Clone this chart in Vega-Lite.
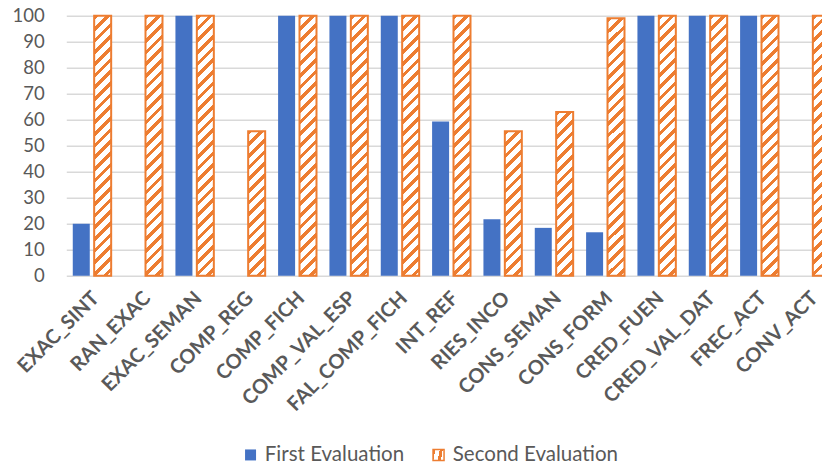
{
  "$schema": "https://vega.github.io/schema/vega-lite/v6.json",
  "width": 755.7,
  "height": 260,
  "autosize": {"type": "none"},
  "padding": {"left": 66.3, "top": 15.7, "right": 0, "bottom": 194.3},
  "config": {"font": "Lato", "view": {"stroke": null}},
  "data": {
    "values": [
      {"category": "EXAC_SINT", "series": "First Evaluation", "value": 20},
      {"category": "EXAC_SINT", "series": "Second Evaluation", "value": 100},
      {"category": "RAN_EXAC", "series": "First Evaluation", "value": 0},
      {"category": "RAN_EXAC", "series": "Second Evaluation", "value": 100},
      {"category": "EXAC_SEMAN", "series": "First Evaluation", "value": 100},
      {"category": "EXAC_SEMAN", "series": "Second Evaluation", "value": 100},
      {"category": "COMP_REG", "series": "First Evaluation", "value": 0},
      {"category": "COMP_REG", "series": "Second Evaluation", "value": 55.6},
      {"category": "COMP_FICH", "series": "First Evaluation", "value": 100},
      {"category": "COMP_FICH", "series": "Second Evaluation", "value": 100},
      {"category": "COMP_VAL_ESP", "series": "First Evaluation", "value": 100},
      {"category": "COMP_VAL_ESP", "series": "Second Evaluation", "value": 100},
      {"category": "FAL_COMP_FICH", "series": "First Evaluation", "value": 100},
      {"category": "FAL_COMP_FICH", "series": "Second Evaluation", "value": 100},
      {"category": "INT_REF", "series": "First Evaluation", "value": 59.3},
      {"category": "INT_REF", "series": "Second Evaluation", "value": 100},
      {"category": "RIES_INCO", "series": "First Evaluation", "value": 21.7},
      {"category": "RIES_INCO", "series": "Second Evaluation", "value": 55.6},
      {"category": "CONS_SEMAN", "series": "First Evaluation", "value": 18.4},
      {"category": "CONS_SEMAN", "series": "Second Evaluation", "value": 63},
      {"category": "CONS_FORM", "series": "First Evaluation", "value": 16.7},
      {"category": "CONS_FORM", "series": "Second Evaluation", "value": 99},
      {"category": "CRED_FUEN", "series": "First Evaluation", "value": 100},
      {"category": "CRED_FUEN", "series": "Second Evaluation", "value": 100},
      {"category": "CRED_VAL_DAT", "series": "First Evaluation", "value": 100},
      {"category": "CRED_VAL_DAT", "series": "Second Evaluation", "value": 100},
      {"category": "FREC_ACT", "series": "First Evaluation", "value": 100},
      {"category": "FREC_ACT", "series": "Second Evaluation", "value": 100},
      {"category": "CONV_ACT", "series": "First Evaluation", "value": 0},
      {"category": "CONV_ACT", "series": "Second Evaluation", "value": 100}
    ]
  },
  "mark": {"type": "bar", "strokeWidth": 2},
  "encoding": {
    "x": {
      "field": "category",
      "type": "nominal",
      "sort": null,
      "scale": {"range": [0, 770], "paddingInner": 0.252, "paddingOuter": 0.126},
      "axis": {
        "title": null,
        "labelAngle": -45,
        "labelFont": "Lato",
        "labelFontWeight": "bold",
        "labelFontSize": 20,
        "labelColor": "#595959",
        "labelPadding": 12,
        "labelOffset": -3,
        "labelOverlap": false,
        "labelLimit": 400,
        "ticks": false,
        "domain": false
      }
    },
    "xOffset": {
      "field": "series",
      "type": "nominal",
      "scale": {"paddingInner": 0.2056, "paddingOuter": 0}
    },
    "y": {
      "field": "value",
      "type": "quantitative",
      "scale": {"domain": [0, 100], "nice": false},
      "axis": {
        "title": null,
        "values": [0, 10, 20, 30, 40, 50, 60, 70, 80, 90, 100],
        "labelFont": "Lato",
        "labelFontSize": 18.5,
        "labelColor": "#595959",
        "labelPadding": 22,
        "ticks": false,
        "domain": false,
        "grid": true,
        "gridColor": "#D9D9D9",
        "gridWidth": 1.5
      }
    },
    "color": {
      "condition": [
        {
          "test": "datum.series === 'Second Evaluation' && datum.value >= 80",
          "value": {
            "gradient": "linear", "x1": 0, "y1": 0, "x2": 0.06938, "y2": 1.0608,
            "stops": [
              {"offset": 0, "color": "#ED7D31"}, {"offset": 0.01685, "color": "#ED7D31"}, {"offset": 0.01685, "color": "#FFFFFF"}, {"offset": 0.04213, "color": "#FFFFFF"},
              {"offset": 0.04213, "color": "#ED7D31"}, {"offset": 0.05898, "color": "#ED7D31"}, {"offset": 0.05898, "color": "#FFFFFF"}, {"offset": 0.08426, "color": "#FFFFFF"},
              {"offset": 0.08426, "color": "#ED7D31"}, {"offset": 0.10111, "color": "#ED7D31"}, {"offset": 0.10111, "color": "#FFFFFF"}, {"offset": 0.12639, "color": "#FFFFFF"},
              {"offset": 0.12639, "color": "#ED7D31"}, {"offset": 0.14324, "color": "#ED7D31"}, {"offset": 0.14324, "color": "#FFFFFF"}, {"offset": 0.16852, "color": "#FFFFFF"},
              {"offset": 0.16852, "color": "#ED7D31"}, {"offset": 0.18537, "color": "#ED7D31"}, {"offset": 0.18537, "color": "#FFFFFF"}, {"offset": 0.21065, "color": "#FFFFFF"},
              {"offset": 0.21065, "color": "#ED7D31"}, {"offset": 0.2275, "color": "#ED7D31"}, {"offset": 0.2275, "color": "#FFFFFF"}, {"offset": 0.25278, "color": "#FFFFFF"},
              {"offset": 0.25278, "color": "#ED7D31"}, {"offset": 0.26963, "color": "#ED7D31"}, {"offset": 0.26963, "color": "#FFFFFF"}, {"offset": 0.29491, "color": "#FFFFFF"},
              {"offset": 0.29491, "color": "#ED7D31"}, {"offset": 0.31176, "color": "#ED7D31"}, {"offset": 0.31176, "color": "#FFFFFF"}, {"offset": 0.33704, "color": "#FFFFFF"},
              {"offset": 0.33704, "color": "#ED7D31"}, {"offset": 0.35389, "color": "#ED7D31"}, {"offset": 0.35389, "color": "#FFFFFF"}, {"offset": 0.37917, "color": "#FFFFFF"},
              {"offset": 0.37917, "color": "#ED7D31"}, {"offset": 0.39602, "color": "#ED7D31"}, {"offset": 0.39602, "color": "#FFFFFF"}, {"offset": 0.4213, "color": "#FFFFFF"},
              {"offset": 0.4213, "color": "#ED7D31"}, {"offset": 0.43815, "color": "#ED7D31"}, {"offset": 0.43815, "color": "#FFFFFF"}, {"offset": 0.46343, "color": "#FFFFFF"},
              {"offset": 0.46343, "color": "#ED7D31"}, {"offset": 0.48028, "color": "#ED7D31"}, {"offset": 0.48028, "color": "#FFFFFF"}, {"offset": 0.50556, "color": "#FFFFFF"},
              {"offset": 0.50556, "color": "#ED7D31"}, {"offset": 0.52241, "color": "#ED7D31"}, {"offset": 0.52241, "color": "#FFFFFF"}, {"offset": 0.54769, "color": "#FFFFFF"},
              {"offset": 0.54769, "color": "#ED7D31"}, {"offset": 0.56454, "color": "#ED7D31"}, {"offset": 0.56454, "color": "#FFFFFF"}, {"offset": 0.58982, "color": "#FFFFFF"},
              {"offset": 0.58982, "color": "#ED7D31"}, {"offset": 0.60667, "color": "#ED7D31"}, {"offset": 0.60667, "color": "#FFFFFF"}, {"offset": 0.63195, "color": "#FFFFFF"},
              {"offset": 0.63195, "color": "#ED7D31"}, {"offset": 0.6488, "color": "#ED7D31"}, {"offset": 0.6488, "color": "#FFFFFF"}, {"offset": 0.67408, "color": "#FFFFFF"},
              {"offset": 0.67408, "color": "#ED7D31"}, {"offset": 0.69093, "color": "#ED7D31"}, {"offset": 0.69093, "color": "#FFFFFF"}, {"offset": 0.71621, "color": "#FFFFFF"},
              {"offset": 0.71621, "color": "#ED7D31"}, {"offset": 0.73306, "color": "#ED7D31"}, {"offset": 0.73306, "color": "#FFFFFF"}, {"offset": 0.75834, "color": "#FFFFFF"},
              {"offset": 0.75834, "color": "#ED7D31"}, {"offset": 0.77519, "color": "#ED7D31"}, {"offset": 0.77519, "color": "#FFFFFF"}, {"offset": 0.80047, "color": "#FFFFFF"},
              {"offset": 0.80047, "color": "#ED7D31"}, {"offset": 0.81732, "color": "#ED7D31"}, {"offset": 0.81732, "color": "#FFFFFF"}, {"offset": 0.8426, "color": "#FFFFFF"},
              {"offset": 0.8426, "color": "#ED7D31"}, {"offset": 0.85945, "color": "#ED7D31"}, {"offset": 0.85945, "color": "#FFFFFF"}, {"offset": 0.88473, "color": "#FFFFFF"},
              {"offset": 0.88473, "color": "#ED7D31"}, {"offset": 0.90158, "color": "#ED7D31"}, {"offset": 0.90158, "color": "#FFFFFF"}, {"offset": 0.92686, "color": "#FFFFFF"},
              {"offset": 0.92686, "color": "#ED7D31"}, {"offset": 0.94371, "color": "#ED7D31"}, {"offset": 0.94371, "color": "#FFFFFF"}, {"offset": 0.96899, "color": "#FFFFFF"},
              {"offset": 0.96899, "color": "#ED7D31"}, {"offset": 0.98584, "color": "#ED7D31"}, {"offset": 0.98584, "color": "#FFFFFF"}, {"offset": 1, "color": "#FFFFFF"}
            ]
          }
        },
        {
          "test": "datum.series === 'Second Evaluation' && datum.value >= 60",
          "value": {
            "gradient": "linear", "x1": 0, "y1": 0, "x2": 0.11333, "y2": 1.092,
            "stops": [
              {"offset": 0, "color": "#ED7D31"}, {"offset": 0.02582, "color": "#ED7D31"}, {"offset": 0.02582, "color": "#FFFFFF"}, {"offset": 0.06455, "color": "#FFFFFF"},
              {"offset": 0.06455, "color": "#ED7D31"}, {"offset": 0.09037, "color": "#ED7D31"}, {"offset": 0.09037, "color": "#FFFFFF"}, {"offset": 0.1291, "color": "#FFFFFF"},
              {"offset": 0.1291, "color": "#ED7D31"}, {"offset": 0.15492, "color": "#ED7D31"}, {"offset": 0.15492, "color": "#FFFFFF"}, {"offset": 0.19365, "color": "#FFFFFF"},
              {"offset": 0.19365, "color": "#ED7D31"}, {"offset": 0.21947, "color": "#ED7D31"}, {"offset": 0.21947, "color": "#FFFFFF"}, {"offset": 0.2582, "color": "#FFFFFF"},
              {"offset": 0.2582, "color": "#ED7D31"}, {"offset": 0.28402, "color": "#ED7D31"}, {"offset": 0.28402, "color": "#FFFFFF"}, {"offset": 0.32275, "color": "#FFFFFF"},
              {"offset": 0.32275, "color": "#ED7D31"}, {"offset": 0.34857, "color": "#ED7D31"}, {"offset": 0.34857, "color": "#FFFFFF"}, {"offset": 0.3873, "color": "#FFFFFF"},
              {"offset": 0.3873, "color": "#ED7D31"}, {"offset": 0.41312, "color": "#ED7D31"}, {"offset": 0.41312, "color": "#FFFFFF"}, {"offset": 0.45185, "color": "#FFFFFF"},
              {"offset": 0.45185, "color": "#ED7D31"}, {"offset": 0.47767, "color": "#ED7D31"}, {"offset": 0.47767, "color": "#FFFFFF"}, {"offset": 0.5164, "color": "#FFFFFF"},
              {"offset": 0.5164, "color": "#ED7D31"}, {"offset": 0.54222, "color": "#ED7D31"}, {"offset": 0.54222, "color": "#FFFFFF"}, {"offset": 0.58095, "color": "#FFFFFF"},
              {"offset": 0.58095, "color": "#ED7D31"}, {"offset": 0.60677, "color": "#ED7D31"}, {"offset": 0.60677, "color": "#FFFFFF"}, {"offset": 0.6455, "color": "#FFFFFF"},
              {"offset": 0.6455, "color": "#ED7D31"}, {"offset": 0.67132, "color": "#ED7D31"}, {"offset": 0.67132, "color": "#FFFFFF"}, {"offset": 0.71005, "color": "#FFFFFF"},
              {"offset": 0.71005, "color": "#ED7D31"}, {"offset": 0.73587, "color": "#ED7D31"}, {"offset": 0.73587, "color": "#FFFFFF"}, {"offset": 0.7746, "color": "#FFFFFF"},
              {"offset": 0.7746, "color": "#ED7D31"}, {"offset": 0.80042, "color": "#ED7D31"}, {"offset": 0.80042, "color": "#FFFFFF"}, {"offset": 0.83915, "color": "#FFFFFF"},
              {"offset": 0.83915, "color": "#ED7D31"}, {"offset": 0.86497, "color": "#ED7D31"}, {"offset": 0.86497, "color": "#FFFFFF"}, {"offset": 0.9037, "color": "#FFFFFF"},
              {"offset": 0.9037, "color": "#ED7D31"}, {"offset": 0.92952, "color": "#ED7D31"}, {"offset": 0.92952, "color": "#FFFFFF"}, {"offset": 0.96825, "color": "#FFFFFF"},
              {"offset": 0.96825, "color": "#ED7D31"}, {"offset": 0.99407, "color": "#ED7D31"}, {"offset": 0.99407, "color": "#FFFFFF"}, {"offset": 1, "color": "#FFFFFF"}
            ]
          }
        },
        {
          "test": "datum.series === 'Second Evaluation'",
          "value": {
            "gradient": "linear", "x1": 0, "y1": 0, "x2": 0.12962, "y2": 1.1023,
            "stops": [
              {"offset": 0, "color": "#ED7D31"}, {"offset": 0.02889, "color": "#ED7D31"}, {"offset": 0.02889, "color": "#FFFFFF"}, {"offset": 0.07223, "color": "#FFFFFF"},
              {"offset": 0.07223, "color": "#ED7D31"}, {"offset": 0.10112, "color": "#ED7D31"}, {"offset": 0.10112, "color": "#FFFFFF"}, {"offset": 0.14446, "color": "#FFFFFF"},
              {"offset": 0.14446, "color": "#ED7D31"}, {"offset": 0.17335, "color": "#ED7D31"}, {"offset": 0.17335, "color": "#FFFFFF"}, {"offset": 0.21669, "color": "#FFFFFF"},
              {"offset": 0.21669, "color": "#ED7D31"}, {"offset": 0.24558, "color": "#ED7D31"}, {"offset": 0.24558, "color": "#FFFFFF"}, {"offset": 0.28892, "color": "#FFFFFF"},
              {"offset": 0.28892, "color": "#ED7D31"}, {"offset": 0.31781, "color": "#ED7D31"}, {"offset": 0.31781, "color": "#FFFFFF"}, {"offset": 0.36115, "color": "#FFFFFF"},
              {"offset": 0.36115, "color": "#ED7D31"}, {"offset": 0.39004, "color": "#ED7D31"}, {"offset": 0.39004, "color": "#FFFFFF"}, {"offset": 0.43338, "color": "#FFFFFF"},
              {"offset": 0.43338, "color": "#ED7D31"}, {"offset": 0.46227, "color": "#ED7D31"}, {"offset": 0.46227, "color": "#FFFFFF"}, {"offset": 0.50561, "color": "#FFFFFF"},
              {"offset": 0.50561, "color": "#ED7D31"}, {"offset": 0.5345, "color": "#ED7D31"}, {"offset": 0.5345, "color": "#FFFFFF"}, {"offset": 0.57784, "color": "#FFFFFF"},
              {"offset": 0.57784, "color": "#ED7D31"}, {"offset": 0.60673, "color": "#ED7D31"}, {"offset": 0.60673, "color": "#FFFFFF"}, {"offset": 0.65007, "color": "#FFFFFF"},
              {"offset": 0.65007, "color": "#ED7D31"}, {"offset": 0.67896, "color": "#ED7D31"}, {"offset": 0.67896, "color": "#FFFFFF"}, {"offset": 0.7223, "color": "#FFFFFF"},
              {"offset": 0.7223, "color": "#ED7D31"}, {"offset": 0.75119, "color": "#ED7D31"}, {"offset": 0.75119, "color": "#FFFFFF"}, {"offset": 0.79453, "color": "#FFFFFF"},
              {"offset": 0.79453, "color": "#ED7D31"}, {"offset": 0.82342, "color": "#ED7D31"}, {"offset": 0.82342, "color": "#FFFFFF"}, {"offset": 0.86676, "color": "#FFFFFF"},
              {"offset": 0.86676, "color": "#ED7D31"}, {"offset": 0.89565, "color": "#ED7D31"}, {"offset": 0.89565, "color": "#FFFFFF"}, {"offset": 0.93899, "color": "#FFFFFF"},
              {"offset": 0.93899, "color": "#ED7D31"}, {"offset": 0.96788, "color": "#ED7D31"}, {"offset": 0.96788, "color": "#FFFFFF"}, {"offset": 1, "color": "#FFFFFF"}
            ]
          }
        }
      ],
      "field": "series",
      "type": "nominal",
      "scale": {"domain": ["First Evaluation", "Second Evaluation"], "range": ["#4472C4", "#ED7D31"]},
      "legend": {
        "values": ["First Evaluation"],
        "title": null,
        "orient": "none",
        "legendX": 174,
        "legendY": 429,
        "direction": "horizontal",
        "padding": 0,
        "symbolType": "square",
        "symbolSize": 121,
        "symbolStrokeColor": "#4472C4",
        "symbolStrokeWidth": 0,
        "labelFont": "Lato",
        "labelFontSize": 20.5,
        "labelColor": "#595959",
        "labelOffset": 4,
        "labelLimit": 300
      }
    },
    "stroke": {
      "field": "series",
      "type": "nominal",
      "scale": {"range": ["rgba(0,0,0,0)", "#ED7D31"]},
      "legend": {
        "values": ["Second Evaluation"],
        "title": null,
        "orient": "none",
        "legendX": 362,
        "legendY": 429,
        "direction": "horizontal",
        "padding": 0,
        "symbolType": "square",
        "symbolSize": 121,
        "symbolStrokeWidth": 1.5,
        "labelFont": "Lato",
        "labelFontSize": 20.5,
        "labelColor": "#595959",
        "labelOffset": 4,
        "labelLimit": 300,
        "encode": {
          "symbols": {
            "fill": {
              "value": {
                "gradient": "linear", "x1": 0, "y1": 0, "x2": 1, "y2": 1,
                "stops": [
                  {"offset": 0, "color": "#ED7D31"}, {"offset": 0.21, "color": "#ED7D31"}, {"offset": 0.21, "color": "#FFFFFF"}, {"offset": 0.53, "color": "#FFFFFF"},
                  {"offset": 0.53, "color": "#ED7D31"}, {"offset": 0.74, "color": "#ED7D31"}, {"offset": 0.74, "color": "#FFFFFF"}, {"offset": 1, "color": "#FFFFFF"}
                ]
              }
            },
            "strokeWidth": {"value": 1.5}
          }
        }
      }
    }
  }
}
